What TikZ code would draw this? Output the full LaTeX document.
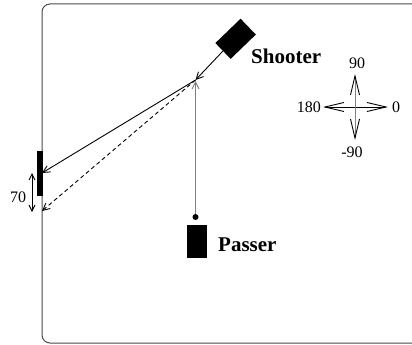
\documentclass[tikz,border=0pt]{standalone}
\usepackage{fontspec}
\setmainfont{Liberation Serif}
\usetikzlibrary{arrows.meta}
\begin{document}
\begin{tikzpicture}[x=1pt,y=-1pt,
  smalltip/.style={-{Straight Barb[length=7pt,width=7pt]}},
  bigtip/.style={{Straight Barb[length=19pt,width=9pt,color=black]}-{Straight Barb[length=19pt,width=9pt,color=black]}},
  blk/.style={fill=black,draw=none,inner sep=0pt},
  lab/.style={inner sep=0pt,font=\fontsize{16}{18}\selectfont},
  blab/.style={inner sep=0pt,font=\fontsize{21}{24}\selectfont\bfseries,anchor=west},
  line/.style={line width=0.9pt}]
\clip (0,0) rectangle (412,345);
\fill[white] (0,0) rectangle (412,345);
% frame
\draw[line width=1pt,black!70,rounded corners=8pt] (42,4) rectangle (440,343);
% goal
\node[blk,minimum width=6pt,minimum height=45pt] (goal) at (40,173.5) {};
\coordinate (g1) at (42,173);
\coordinate (g2) at (42,211);
% shooter
\node[blk,minimum width=35pt,minimum height=22pt,rotate=44] (shooter) at (235.6,38.8) {};
\node[blab] (shlab) at (251,56) {Shooter};
% kick point
\coordinate (kick) at (195.5,80);
\coordinate (kick2) at (195.5,81);
% passer
\node[blk,minimum width=20pt,minimum height=33pt] (passer) at (197,241.5) {};
\node[blk,circle,minimum size=6pt] (dot) at (195.5,217) {};
\node[blab] (palab) at (218,245) {Passer};
% connectors
\draw[line,smalltip] (shooter.west) -- (kick);
\draw[line,smalltip] (kick) -- (g1);
\draw[line,smalltip,dashed,dash pattern=on 4pt off 3pt] (kick) -- (g2);
\draw[line,smalltip,black!50] (dot) -- (kick2);
% 70 arrow
\coordinate (a1) at (32,173);
\coordinate (a2) at (32,212);
\draw[line,{Straight Barb[length=6pt,width=6pt]}-{Straight Barb[length=6pt,width=6pt]}] (a1) -- (a2);
\node[lab] (seventy) at (18,197) {70};
% compass
\coordinate (cw) at (323,107);
\coordinate (ce) at (388,107);
\coordinate (cn) at (355,74);
\coordinate (cs) at (355,140);
\draw[line,bigtip] (cw) -- (ce);
\draw[line,black!50,bigtip] (cn) -- (cs);
\node[lab] (n90) at (357,63) {90};
\node[lab,anchor=east] (n180) at (321,107) {180};
\node[lab,anchor=west] (n0) at (392,107) {0};
\node[lab] (nm90) at (352,152) {-90};
\end{tikzpicture}
\end{document}
